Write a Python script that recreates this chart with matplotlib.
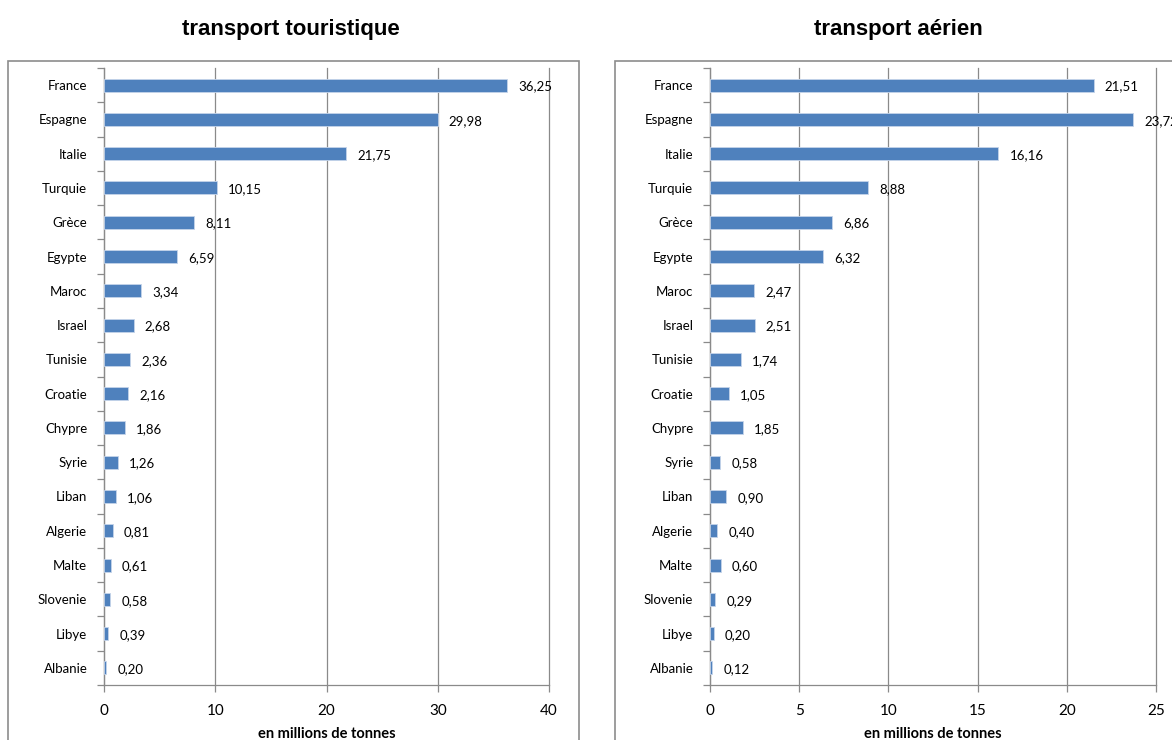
import matplotlib.pyplot as plt
from matplotlib.patches import Rectangle
from matplotlib.ticker import FixedLocator

countries = ["France", "Espagne", "Italie", "Turquie", "Grèce", "Egypte", "Maroc",
             "Israel", "Tunisie", "Croatie", "Chypre", "Syrie", "Liban", "Algerie",
             "Malte", "Slovenie", "Libye", "Albanie"]
touristique = [36.25, 29.98, 21.75, 10.15, 8.11, 6.59, 3.34, 2.68, 2.36, 2.16,
               1.86, 1.26, 1.06, 0.81, 0.61, 0.58, 0.39, 0.20]
aerien = [21.51, 23.72, 16.16, 8.88, 6.86, 6.32, 2.47, 2.51, 1.74, 1.05,
          1.85, 0.58, 0.90, 0.40, 0.60, 0.29, 0.20, 0.12]

W, H = 1172, 740
bar_color = "#4F81BD"
grid_color = "#8a8a8a"
label_font = ["Lato", "DejaVu Sans"]
title_font = ["Liberation Sans Narrow", "Liberation Sans", "DejaVu Sans"]

fig = plt.figure(figsize=(W / 100, H / 100), dpi=100)

# outer chart frames (the second one runs past the right edge)
for x0, x1 in [(8, 579), (615, 1190)]:
    fig.add_artist(Rectangle((x0 / W, -0.05), (x1 - x0) / W, 1 - 61 / H + 0.05,
                             transform=fig.transFigure, fill=False,
                             edgecolor="#8c8c8c", linewidth=1.2))


def draw_panel(left_px, right_px, values, xmax, step, title, title_x):
    ax = fig.add_axes([left_px / W, 1 - 685 / H, (right_px - left_px) / W, (685 - 68) / H])
    n = len(countries)
    ypos = list(range(n))
    ax.barh(ypos, values, height=0.38, color=bar_color, edgecolor="#c5d4ea",
            linewidth=0.6, zorder=3)
    ax.set_xlim(0, xmax)
    ax.set_ylim(n - 0.5, -0.5)
    ax.set_xticks(list(range(0, xmax + 1, step)))
    ax.xaxis.grid(True, color=grid_color, linewidth=0.9, zorder=0)
    for gl in ax.get_xgridlines():
        gl.set_clip_on(False)
    ax.set_yticks(ypos)
    ax.set_yticklabels(countries, fontsize=9.5, family=label_font)
    ax.tick_params(axis="y", length=0, pad=12)
    ax.yaxis.set_minor_locator(FixedLocator([i - 0.5 for i in range(n + 1)]))
    ax.tick_params(axis="y", which="minor", length=5, color=grid_color, width=0.9)
    ax.tick_params(axis="x", length=5, color=grid_color, width=0.9, pad=9)
    for lab in ax.get_xticklabels():
        lab.set_fontsize(11)
        lab.set_family(label_font)
    for side in ["top", "right"]:
        ax.spines[side].set_visible(False)
    for side in ["left", "bottom"]:
        ax.spines[side].set_color(grid_color)
        ax.spines[side].set_linewidth(0.9)
    for y, v in zip(ypos, values):
        ax.annotate(f"{v:.2f}".replace(".", ","), (v, y), xytext=(8, -1),
                    textcoords="offset points", va="center", ha="left",
                    fontsize=9.5, family=label_font, annotation_clip=False)
    ax.set_xlabel("en millions de tonnes", fontsize=10.5, fontweight="bold",
                  family=label_font, labelpad=6)
    fig.text(title_x / W, 1 - 30 / H, title, ha="center", va="center",
             fontsize=16, fontweight="bold", family=title_font)
    return ax


draw_panel(104, 549, touristique, 40, 10, "transport touristique", 291)
draw_panel(710, 1156, aerien, 25, 5, "transport aérien", 898)

fig.savefig("out.png", dpi=100)
